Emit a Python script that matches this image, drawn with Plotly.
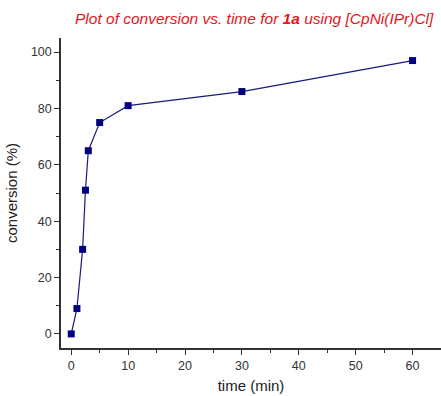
import plotly.graph_objects as go

time_min = [0, 1, 2, 2.5, 3, 5, 10, 30, 60]
conversion = [0, 9, 30, 51, 65, 75, 81, 86, 97]
x_ticks = [0, 10, 20, 30, 40, 50, 60]
y_ticks = [0, 20, 40, 60, 80, 100]

FONT = "Liberation Sans, Arial, sans-serif"

fig = go.Figure()
fig.add_trace(go.Scatter(
    x=time_min, y=conversion, mode="lines+markers",
    line=dict(color="#1a1a80", width=1.2),
    marker=dict(symbol="square", size=7, color="#000080"),
    showlegend=False,
))

axis_common = dict(
    showgrid=False, zeroline=False, showline=True, linecolor="#333333", linewidth=1.5,
    ticks="outside", ticklen=5, tickwidth=1.2, tickcolor="#333333",
    tickfont=dict(family=FONT, size=12.5, color="#333333"),
    minor=dict(ticks="outside", ticklen=3, tickwidth=1, tickcolor="#333333"),
    automargin=False,
)

fig.update_xaxes(
    range=[-1.8, 65], tickvals=x_ticks, minor_dtick=5,
    title=dict(text="time (min)", font=dict(family=FONT, size=15, color="#222222"), standoff=9),
    **axis_common,
)
fig.update_yaxes(
    range=[-5, 105], tickvals=y_ticks, minor_dtick=10,
    title=dict(text="conversion (%)", font=dict(family=FONT, size=15, color="#222222"), standoff=10),
    **axis_common,
)

fig.add_annotation(
    text="<i>Plot of conversion vs. time for <b>1a</b> using [CpNi(IPr)Cl]</i>",
    xref="paper", yref="paper", x=0.51, y=1.0, yshift=20, xanchor="center", yanchor="middle",
    showarrow=False, font=dict(family=FONT, size=15.5, color="#e8141c"),
)

fig.update_layout(
    width=441, height=396,
    margin=dict(l=61, r=0, t=38, b=48),
    plot_bgcolor="white", paper_bgcolor="white",
)

fig.write_html("out.html", config={"displayModeBar": False},
               post_script="document.body.style.margin='0px';")
